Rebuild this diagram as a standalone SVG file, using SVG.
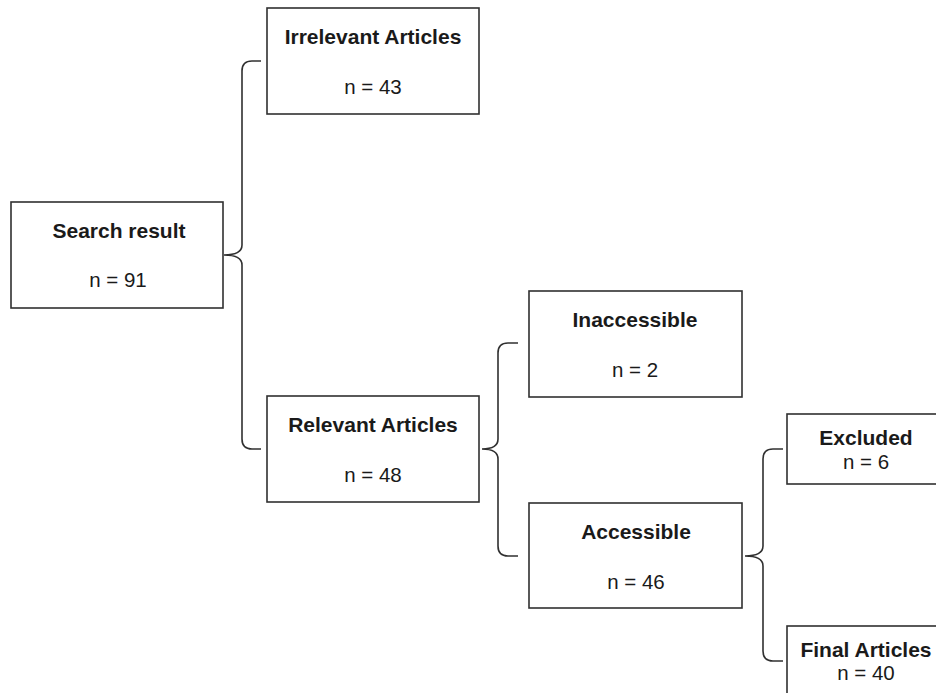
<svg xmlns="http://www.w3.org/2000/svg" width="936" height="693" viewBox="0 0 936 693">
<style>
.box{fill:#fff;stroke:#303030;stroke-width:1.6}
.t{font-family:"Liberation Sans",Arial,sans-serif;font-size:20.5px;fill:#1a1a1a;text-anchor:middle}
.b{font-weight:bold;font-size:21px}
.br{fill:none;stroke:#303030;stroke-width:1.6}
</style>
<rect width="936" height="693" fill="#fff"/>
<g id="connectors">
<path class="br" d="M224 255 Q242 255 242 245 L242 71 Q242 61 252 61 L261 61 M224 255 Q242 255 242 265 L242 439 Q242 449 252 449 L261 449"/>
<path class="br" d="M482 449 Q498 449 498 439 L498 353 Q498 343 508 343 L518 343 M482 449 Q498 449 498 459 L498 546 Q498 556 508 556 L518 556"/>
<path class="br" d="M745 556 Q763 556 763 546 L763 459 Q763 449 773 449 L783 449 M745 556 Q763 556 763 566 L763 651 Q763 661 773 661 L783 661"/>
</g>
<g id="search"><rect class="box" x="11" y="202" width="212" height="106"/><text class="t b" x="119" y="238">Search result</text><text class="t" x="118" y="287">n = 91</text></g>
<g id="irrelevant"><rect class="box" x="267" y="8" width="212" height="106"/><text class="t b" x="373" y="44">Irrelevant Articles</text><text class="t" x="373" y="94">n = 43</text></g>
<g id="relevant"><rect class="box" x="267" y="396" width="212" height="106"/><text class="t b" x="373" y="432">Relevant Articles</text><text class="t" x="373" y="482">n = 48</text></g>
<g id="inaccessible"><rect class="box" x="529" y="291" width="213" height="106"/><text class="t b" x="635" y="327">Inaccessible</text><text class="t" x="635" y="377">n = 2</text></g>
<g id="accessible"><rect class="box" x="529" y="503" width="213" height="105"/><text class="t b" x="636" y="539">Accessible</text><text class="t" x="636" y="589">n = 46</text></g>
<g id="excluded"><rect class="box" x="787" y="414" width="160" height="70"/><text class="t b" x="866" y="445">Excluded</text><text class="t" x="866" y="469">n = 6</text></g>
<g id="final"><rect class="box" x="787" y="626" width="160" height="80"/><text class="t b" x="866" y="657">Final Articles</text><text class="t" x="866" y="680">n = 40</text></g>
</svg>
